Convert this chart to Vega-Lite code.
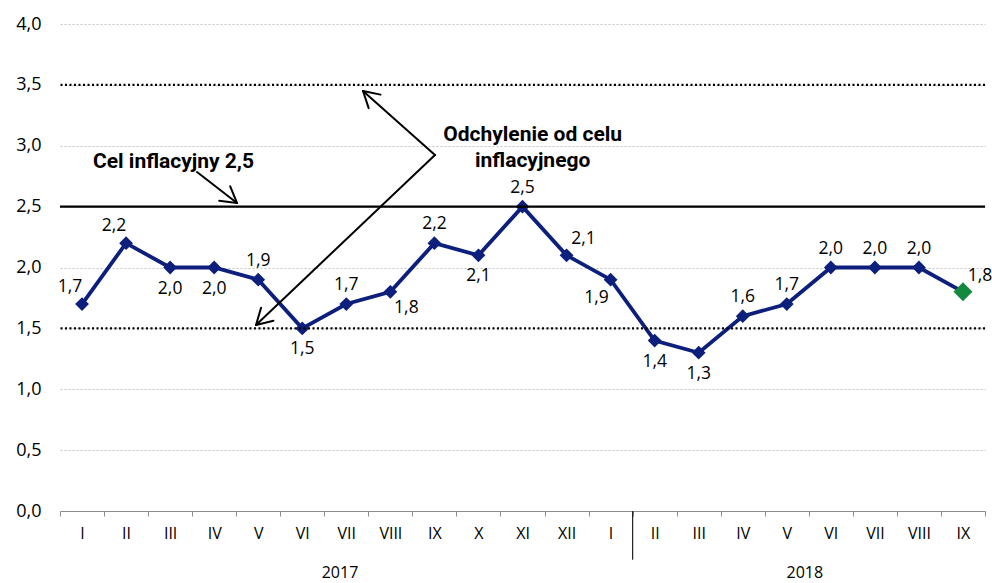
{
  "$schema": "https://vega.github.io/schema/vega-lite/v6.json",
  "width": 925,
  "height": 487,
  "autosize": {"type": "none"},
  "padding": {"left": 60, "top": 24, "right": 7, "bottom": 72},
  "background": "white",
  "config": {
    "view": {"stroke": null},
    "locale": {"number": {"decimal": ",", "thousands": " ", "grouping": [3], "currency": ["", ""]}}
  },
  "datasets": {
    "months": [
      {"key": "2017-I", "v": 1.7, "pos": "tl"},
      {"key": "2017-II", "v": 2.2, "pos": "tl"},
      {"key": "2017-III", "v": 2.0, "pos": "b"},
      {"key": "2017-IV", "v": 2.0, "pos": "b"},
      {"key": "2017-V", "v": 1.9, "pos": "t"},
      {"key": "2017-VI", "v": 1.5, "pos": "b"},
      {"key": "2017-VII", "v": 1.7, "pos": "t"},
      {"key": "2017-VIII", "v": 1.8, "pos": "br"},
      {"key": "2017-IX", "v": 2.2, "pos": "t"},
      {"key": "2017-X", "v": 2.1, "pos": "b"},
      {"key": "2017-XI", "v": 2.5, "pos": "t"},
      {"key": "2017-XII", "v": 2.1, "pos": "tr"},
      {"key": "2018-I", "v": 1.9, "pos": "bl"},
      {"key": "2018-II", "v": 1.4, "pos": "b"},
      {"key": "2018-III", "v": 1.3, "pos": "b"},
      {"key": "2018-IV", "v": 1.6, "pos": "t"},
      {"key": "2018-V", "v": 1.7, "pos": "t"},
      {"key": "2018-VI", "v": 2.0, "pos": "t"},
      {"key": "2018-VII", "v": 2.0, "pos": "t"},
      {"key": "2018-VIII", "v": 2.0, "pos": "t"},
      {"key": "2018-IX", "v": 1.8, "pos": "tr"}
    ],
    "segments": [
      {"x": 8.013, "y": 2.924, "x2": 6.379, "y2": 3.450},
      {"x": 6.379, "y": 3.450, "x2": 6.508, "y2": 3.309},
      {"x": 6.379, "y": 3.450, "x2": 6.778, "y2": 3.420},
      {"x": 8.013, "y": 2.924, "x2": 3.950, "y2": 1.528},
      {"x": 3.950, "y": 1.528, "x2": 4.347, "y2": 1.562},
      {"x": 3.950, "y": 1.528, "x2": 4.065, "y2": 1.669},
      {"x": 2.610, "y": 2.784, "x2": 3.518, "y2": 2.530},
      {"x": 3.518, "y": 2.530, "x2": 3.364, "y2": 2.667},
      {"x": 3.518, "y": 2.530, "x2": 3.114, "y2": 2.549}
    ],
    "notes": [
      {"x": 0.249, "y": 2.866, "t": "Cel inflacyjny 2,5", "a": "left"},
      {"x": 10.23, "y": 3.088, "t": "Odchylenie od celu", "a": "center"},
      {"x": 10.23, "y": 2.875, "t": "inflacyjnego", "a": "center"}
    ],
    "years": [
      {"x": 5.857, "y": -0.509, "t": "2017"},
      {"x": 16.41, "y": -0.509, "t": "2018"}
    ]
  },
  "layer": [
    {
      "data": {"name": "months"},
      "encoding": {
        "x": {
          "field": "key", "type": "ordinal",
          "scale": {"type": "band", "paddingInner": 0, "paddingOuter": 0,
            "domain": ["2017-I","2017-II","2017-III","2017-IV","2017-V","2017-VI","2017-VII","2017-VIII","2017-IX","2017-X","2017-XI","2017-XII","2018-I","2018-II","2018-III","2018-IV","2018-V","2018-VI","2018-VII","2018-VIII","2018-IX"]},
          "axis": {
            "title": null, "labelAngle": 0, "tickBand": "extent", "ticks": true, "tickSize": 5,
            "tickColor": "#8c8c8c", "domainColor": "#8c8c8c", "labelPadding": 9,
            "labelFont": "Open Sans", "labelFontSize": 16, "labelColor": "#000",
            "labelExpr": "split(datum.label, '-')[1]", "grid": false
          }
        },
        "y": {
          "field": "v", "type": "quantitative",
          "scale": {"domain": [0, 4], "nice": false, "zero": true},
          "axis": {
            "title": null, "values": [0, 0.5, 1, 1.5, 2, 2.5, 3, 3.5, 4], "format": ".1f",
            "domain": false, "ticks": false, "labelPadding": 19,
            "labelFont": "Open Sans", "labelFontSize": 18, "labelColor": "#000",
            "grid": true, "gridColor": "#c4c4c4", "gridDash": [2, 2], "gridWidth": 1
          }
        }
      },
      "layer": [
        {"mark": {"type": "line", "color": "#0c1f7c", "strokeWidth": 3.8}},
        {"mark": {"type": "point", "shape": "diamond", "filled": true, "size": 190, "color": "#0c1f7c", "opacity": 1}},
        {"transform": [{"filter": "datum.key == '2018-IX'"}],
         "mark": {"type": "point", "shape": "diamond", "filled": true, "size": 360, "color": "#13883e", "opacity": 1}},
        {"transform": [{"filter": "datum.pos == 't'"}],
         "mark": {"type": "text", "dy": -19, "font": "Open Sans", "fontSize": 17.5, "color": "#000", "baseline": "middle"},
         "encoding": {"text": {"field": "v", "type": "quantitative", "format": ".1f"}}},
        {"transform": [{"filter": "datum.pos == 'b'"}],
         "mark": {"type": "text", "dy": 21, "font": "Open Sans", "fontSize": 17.5, "color": "#000", "baseline": "middle"},
         "encoding": {"text": {"field": "v", "type": "quantitative", "format": ".1f"}}},
        {"transform": [{"filter": "datum.pos == 'tl'"}],
         "mark": {"type": "text", "dx": -12, "dy": -17, "font": "Open Sans", "fontSize": 17.5, "color": "#000", "baseline": "middle"},
         "encoding": {"text": {"field": "v", "type": "quantitative", "format": ".1f"}}},
        {"transform": [{"filter": "datum.pos == 'tr'"}],
         "mark": {"type": "text", "dx": 17, "dy": -16, "font": "Open Sans", "fontSize": 17.5, "color": "#000", "baseline": "middle"},
         "encoding": {"text": {"field": "v", "type": "quantitative", "format": ".1f"}}},
        {"transform": [{"filter": "datum.pos == 'br'"}],
         "mark": {"type": "text", "dx": 16, "dy": 16, "font": "Open Sans", "fontSize": 17.5, "color": "#000", "baseline": "middle"},
         "encoding": {"text": {"field": "v", "type": "quantitative", "format": ".1f"}}},
        {"transform": [{"filter": "datum.pos == 'bl'"}],
         "mark": {"type": "text", "dx": -14, "dy": 18, "font": "Open Sans", "fontSize": 17.5, "color": "#000", "baseline": "middle"},
         "encoding": {"text": {"field": "v", "type": "quantitative", "format": ".1f"}}}
      ]
    },
    {
      "layer": [
        {"data": {"values": [{"ref": 1.5}, {"ref": 3.5}]},
         "mark": {"type": "rule", "color": "#000", "strokeWidth": 2.2, "strokeDash": [2, 2.5]},
         "encoding": {"y": {"field": "ref", "type": "quantitative"}}},
        {"data": {"values": [{"ref": 2.5}]},
         "mark": {"type": "rule", "color": "#000", "strokeWidth": 2.2},
         "encoding": {"y": {"field": "ref", "type": "quantitative"}}},
        {"data": {"name": "segments"},
         "mark": {"type": "rule", "color": "#000", "strokeWidth": 2, "strokeCap": "round"},
         "encoding": {
           "x": {"field": "x", "type": "quantitative", "scale": {"domain": [-0.5, 20.5], "nice": false, "zero": false}, "axis": null},
           "x2": {"field": "x2"},
           "y": {"field": "y", "type": "quantitative"},
           "y2": {"field": "y2"}
         }},
        {"data": {"values": [{"x": 12.5, "y": 0, "y2": -0.4}]},
         "mark": {"type": "rule", "color": "#222", "strokeWidth": 1.2},
         "encoding": {
           "x": {"field": "x", "type": "quantitative", "scale": {"domain": [-0.5, 20.5], "nice": false, "zero": false}, "axis": null},
           "y": {"field": "y", "type": "quantitative"},
           "y2": {"field": "y2"}
         }},
        {"data": {"name": "notes"},
         "transform": [{"filter": "datum.a == 'left'"}],
         "mark": {"type": "text", "align": "left", "baseline": "middle", "font": "Roboto", "fontWeight": "bold", "fontSize": 21, "color": "#000"},
         "encoding": {
           "x": {"field": "x", "type": "quantitative", "scale": {"domain": [-0.5, 20.5], "nice": false, "zero": false}, "axis": null},
           "y": {"field": "y", "type": "quantitative"},
           "text": {"field": "t"}
         }},
        {"data": {"name": "notes"},
         "transform": [{"filter": "datum.a == 'center'"}],
         "mark": {"type": "text", "align": "center", "baseline": "middle", "font": "Roboto", "fontWeight": "bold", "fontSize": 21, "color": "#000"},
         "encoding": {
           "x": {"field": "x", "type": "quantitative", "scale": {"domain": [-0.5, 20.5], "nice": false, "zero": false}, "axis": null},
           "y": {"field": "y", "type": "quantitative"},
           "text": {"field": "t"}
         }},
        {"data": {"name": "years"},
         "mark": {"type": "text", "align": "center", "baseline": "middle", "font": "Open Sans", "fontSize": 16, "color": "#000"},
         "encoding": {
           "x": {"field": "x", "type": "quantitative", "scale": {"domain": [-0.5, 20.5], "nice": false, "zero": false}, "axis": null},
           "y": {"field": "y", "type": "quantitative"},
           "text": {"field": "t"}
         }}
      ]
    }
  ],
  "resolve": {"scale": {"x": "independent"}, "axis": {"x": "independent"}}
}
